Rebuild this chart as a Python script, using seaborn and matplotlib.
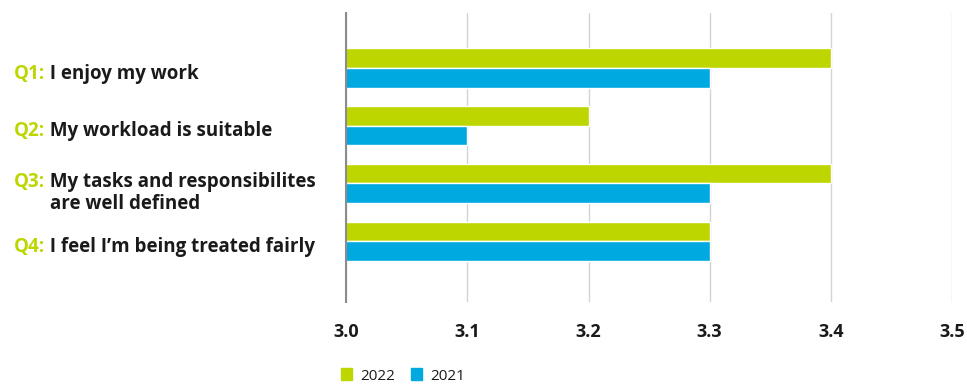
import pandas as pd
import matplotlib.pyplot as plt
import matplotlib.transforms as mtransforms
import seaborn as sns

# data
questions = ["Q1", "Q2", "Q3", "Q4"]
question_texts = ["I enjoy my work", "My workload is suitable",
                  "My tasks and responsibilites\nare well defined",
                  "I feel I\u2019m being treated fairly"]
years = ["2022", "2021"]
scores_2022 = [3.4, 3.2, 3.4, 3.3]
scores_2021 = [3.3, 3.1, 3.3, 3.3]
x_ticks = [3.0, 3.1, 3.2, 3.3, 3.4, 3.5]

GREEN = "#bed600"
BLUE = "#00a9e0"
DARK = "#1a1a1a"

sns.set_theme(style="white")
plt.rcParams['font.family'] = ['Open Sans', 'DejaVu Sans']

df = pd.DataFrame({
    "question": questions * 2,
    "year": [years[0]] * 4 + [years[1]] * 4,
    "score": scores_2022 + scores_2021,
})

fig = plt.figure(figsize=(9.67, 3.84), dpi=100)
ax = fig.add_axes([0.358, 0.214, 0.6265, 0.752])

sns.barplot(data=df, y="question", x="score", hue="year", orient="h",
            palette=[GREEN, BLUE], width=0.68, saturation=1, ax=ax, legend=False)

ax.set_xlim(3.0, 3.5)
ax.set_ylim(4.05, -0.95)
ax.set_xticks(x_ticks)
ax.set_xticklabels([f"{t:.1f}" for t in x_ticks], fontsize=13, fontweight="bold", color=DARK)
ax.tick_params(axis="x", length=0, pad=15)
ax.set_yticks([])
ax.set_xlabel("")
ax.set_ylabel("")
ax.grid(axis="x", color="#d4d4d4", linewidth=1.0)
ax.set_axisbelow(True)
for s in ["top", "right", "bottom"]:
    ax.spines[s].set_visible(False)
ax.spines["left"].set_color("#8c8c8c")
ax.spines["left"].set_linewidth(1.5)

# two-colour question labels
label_tr = mtransforms.blended_transform_factory(fig.transFigure, ax.transData)
for i, (q, txt) in enumerate(zip(questions, question_texts)):
    lines = txt.split("\n")
    y = i + 0.1 if len(lines) == 1 else i - 0.02
    t = ax.text(0.0146, y, q + ":", transform=label_tr,
                fontsize=13.5, fontweight="bold", color=GREEN, va="center")
    a = ax.annotate(" " + lines[0], xy=(1, 0), xycoords=t, va="bottom", ha="left",
                    fontsize=13.5, fontweight="bold", color=DARK)
    if len(lines) > 1:
        ax.annotate(lines[1], xy=(0, 0), xycoords=a, xytext=(3, -1),
                    textcoords="offset points", va="top", ha="left",
                    fontsize=13.5, fontweight="bold", color=DARK)

handles = [plt.Rectangle((0, 0), 1, 1, color=GREEN), plt.Rectangle((0, 0), 1, 1, color=BLUE)]
fig.legend(handles, years, loc="lower left", bbox_to_anchor=(0.338, -0.035), ncol=2,
           frameon=False, handlelength=0.75, handleheight=0.85, handletextpad=0.55,
           columnspacing=1.0, fontsize=11, labelcolor=DARK)

fig.savefig("out.png", dpi=100)
